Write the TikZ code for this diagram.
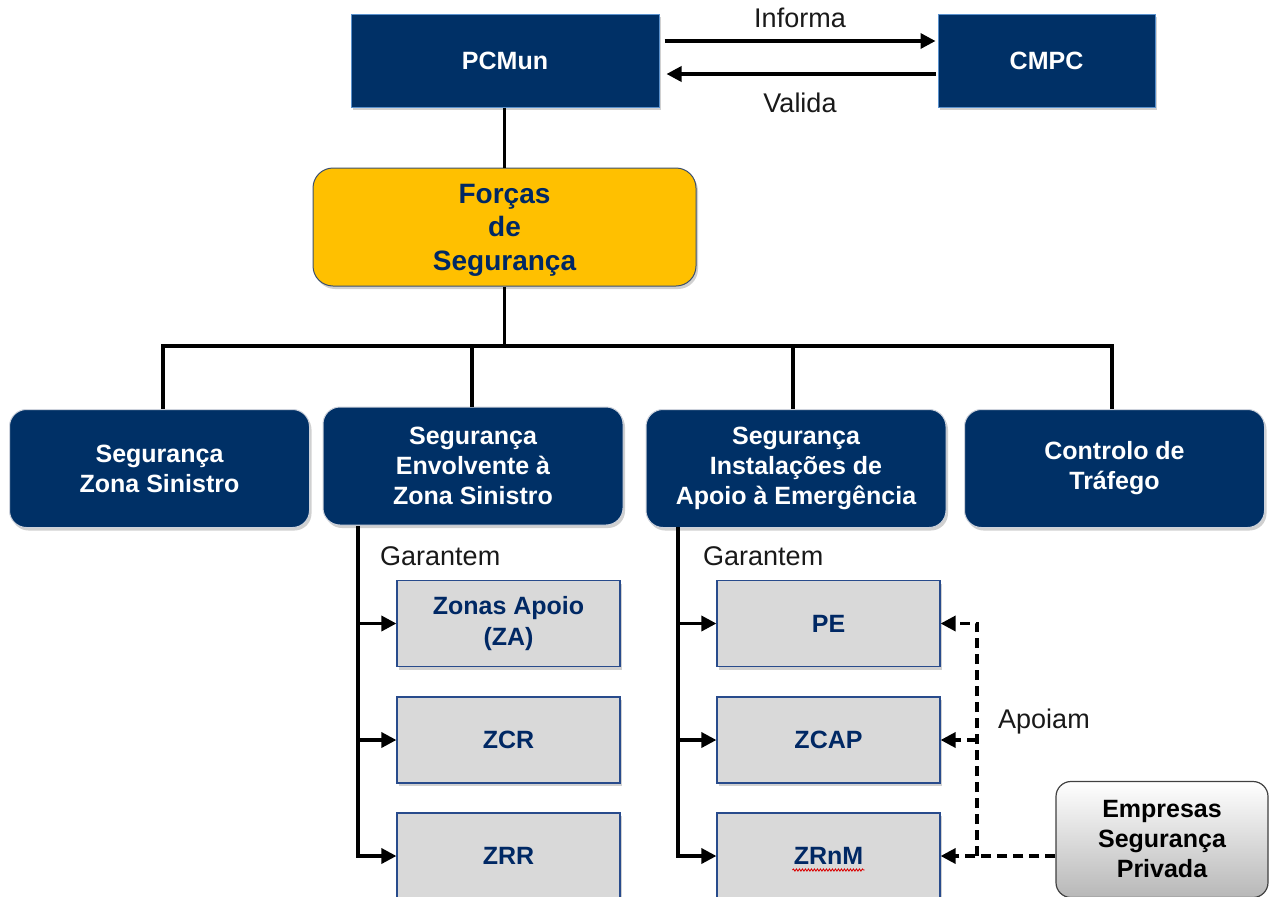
\documentclass[tikz,border=0pt]{standalone}
\usepackage{fontspec}
\setmainfont{Liberation Sans}
\usetikzlibrary{arrows.meta,shadows,decorations.pathmorphing}
\definecolor{navy}{RGB}{0,48,102}
\definecolor{navyborder}{RGB}{90,145,205}
\definecolor{softborder}{RGB}{205,210,220}
\definecolor{gold}{RGB}{255,192,0}
\definecolor{goldborder}{RGB}{60,80,110}
\definecolor{greyfill}{RGB}{217,217,217}
\definecolor{greyborder}{RGB}{40,75,140}
\definecolor{textnavy}{RGB}{0,40,100}
\begin{document}
\begin{tikzpicture}[x=1pt,y=-1pt,
  shadowed/.style={drop shadow={shadow xshift=2pt,shadow yshift=-3pt,opacity=0.3,fill=black!60}},
  topbox/.style={draw=navyborder,line width=1pt,fill=navy,text=white,shadowed,
    font=\fontsize{25}{30}\selectfont\bfseries,align=center},
  roundbox/.style={draw=softborder,line width=1pt,fill=navy,text=white,rounded corners=17pt,shadowed,
    minimum width=300,minimum height=118,font=\fontsize{25}{30}\selectfont\bfseries,align=center},
  forcbox/.style={draw=goldborder,line width=1pt,fill=gold,text=textnavy,rounded corners=20pt,shadowed,
    font=\fontsize{28}{33.5}\selectfont\bfseries,align=center},
  greybox/.style={draw=greyborder,line width=1.2pt,fill=greyfill,text=textnavy,shadowed,
    minimum width=223,minimum height=86,font=\fontsize{25}{31}\selectfont\bfseries,align=center},
  empbox/.style={draw=black!75,line width=1.2pt,top color=white,bottom color=black!28,rounded corners=15pt,
    minimum width=212,minimum height=116,font=\fontsize{25}{30}\selectfont\bfseries,align=center},
  lbl/.style={font=\fontsize{27}{30}\selectfont,text=black!90,inner sep=0pt},
  conn/.style={line width=3.4pt,black},
  arr/.style={conn,-{Triangle[length=15pt,width=15pt]}},
  dasharr/.style={arr,dash pattern=on 10pt off 6pt}
]
\clip (0,0) rectangle (1272,897);
\fill[white] (0,0) rectangle (1272,897);

% top row
\node[topbox,minimum width=308,minimum height=93] (pcmun) at (505,60.5) {PCMun};
\node[topbox,minimum width=217,minimum height=93] (cmpc) at (1046.5,60.5) {CMPC};
\draw[arr] ([xshift=5pt,yshift=19.5pt]pcmun.east) -- ([xshift=-2pt,yshift=19.5pt]cmpc.west);
\draw[arr] ([xshift=-2pt,yshift=-13.5pt]cmpc.west) -- ([xshift=7pt,yshift=-13.5pt]pcmun.east);
\node[lbl] (informa) at (800,18) {Informa};
\node[lbl] (valida) at (800,103) {Valida};

% Forcas
\node[forcbox,minimum width=383,minimum height=118,text depth=-4pt] (forcas) at (504.5,227) {Forças\\de\\Segurança};
\draw[conn] (pcmun.south -| forcas.north) -- (forcas.north);

% second row
\node[roundbox] (b1) at (159.5,468.5) {Segurança\\Zona Sinistro};
\node[roundbox] (b2) at (473,466) {Segurança\\Envolvente à\\Zona Sinistro};
\node[roundbox] (b3) at (796,468.5) {Segurança\\Instalações de\\Apoio à Emergência};
\node[roundbox] (b4) at (1114.5,468.5) {Controlo de\\Tráfego};

\coordinate (bus) at (504,346);
\coordinate (d1) at ([xshift=3.5pt]b1.north);
\coordinate (d2) at ([xshift=-1pt]b2.north);
\coordinate (d3) at ([xshift=-3pt]b3.north);
\coordinate (d4) at ([xshift=-2.5pt]b4.north);
\draw[conn] (forcas.south) -- (forcas.south |- bus);
\draw[conn] (d1) -- (d1 |- bus) -- (d4 |- bus) -- (d4);
\draw[conn] (d2) -- (d2 |- bus);
\draw[conn] (d3) -- (d3 |- bus);

% grey boxes column 1
\node[greybox] (za) at (508.5,623.5) {Zonas Apoio\\(ZA)};
\node[greybox] (zcr) at (508.5,740) {ZCR};
\node[greybox] (zrr) at (508.5,856) {ZRR};
\coordinate (t1) at (358,526);
\draw[arr] (t1) |- (zrr.west);
\draw[arr] (za.west -| t1) -- (za.west);
\draw[arr] (zcr.west -| t1) -- (zcr.west);
\node[lbl,anchor=west] (g1) at (380,556) {Garantem};

% grey boxes column 2
\node[greybox] (pe) at (828.5,623.5) {PE};
\node[greybox] (zcap) at (828.5,740) {ZCAP};
\node[greybox] (zrnm) at (828.5,856) {ZRnM};
\draw[red!85!black,line width=0.8pt,decorate,decoration={snake,amplitude=1.1pt,segment length=3pt}]
  ([xshift=-36pt,yshift=-14pt]zrnm.center) -- ([xshift=36pt,yshift=-14pt]zrnm.center);
\coordinate (t2) at (678,527);
\draw[arr] (t2) |- (zrnm.west);
\draw[arr] (pe.west -| t2) -- (pe.west);
\draw[arr] (zcap.west -| t2) -- (zcap.west);
\node[lbl,anchor=west] (g2) at (703,556) {Garantem};

% Empresas
\node[empbox] (emp) at (1162,839.5) {Empresas\\Segurança\\Privada};
\coordinate (dx) at (977,856);
\draw[dasharr] (emp.west |- zrnm.east) -- (zrnm.east);
\draw[dasharr] (zrnm.east -| dx) |- (pe.east);
\draw[dasharr] (zcap.east -| dx) -- (zcap.east);
\node[lbl,anchor=west] (apoiam) at (998,722) {Apoiam};
\end{tikzpicture}
\end{document}
